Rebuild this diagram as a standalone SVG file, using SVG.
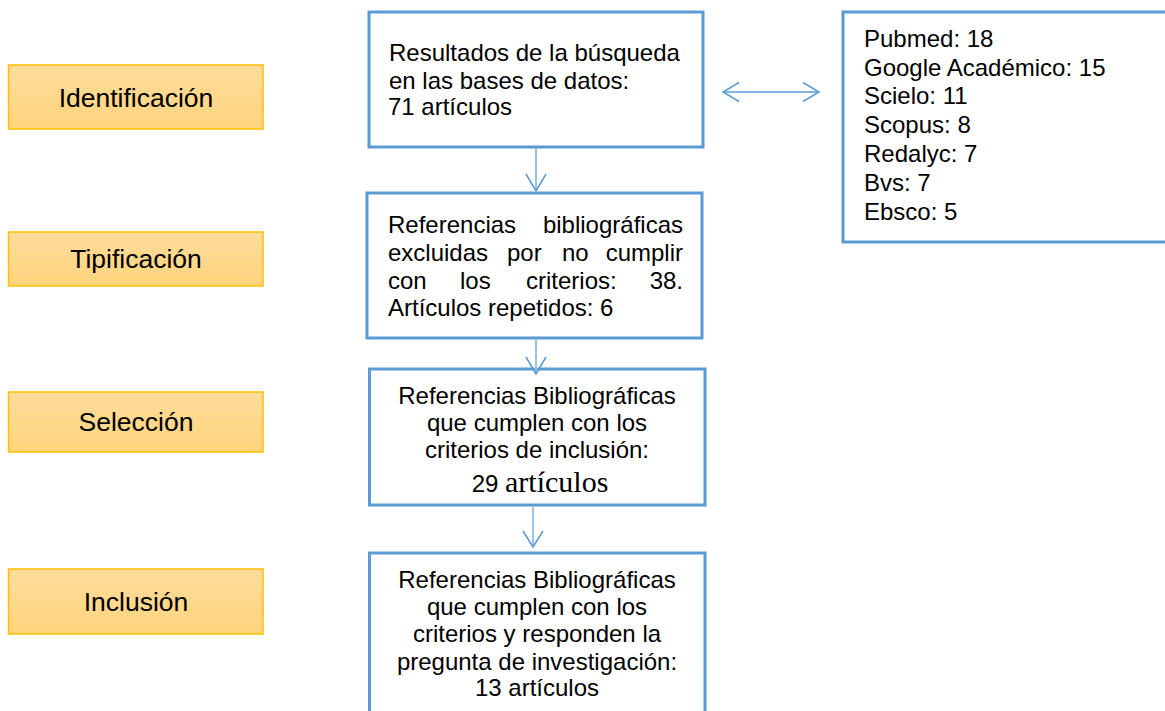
<svg xmlns="http://www.w3.org/2000/svg" width="1165" height="711" viewBox="0 0 1165 711">
<style>
.stage{stroke:#FFC000;stroke-width:1.5;fill:url(#og)}
.box{fill:#FFFFFF;stroke:#5B9BD5;stroke-width:3}
.lbl{font-family:"Liberation Sans",Arial,sans-serif;font-size:26.5px;fill:#000;text-anchor:middle}
.t{font-family:"Liberation Sans",Arial,sans-serif;font-size:24px;fill:#000}
.c{text-anchor:middle}
.e{text-anchor:end}
.line{stroke:#9DC3E6;stroke-width:2;fill:none}
.head{stroke:#5B9BD5;stroke-width:1.5;fill:none}
</style>
<defs>
<linearGradient id="og" x1="0" y1="0" x2="0" y2="1">
<stop offset="0" stop-color="#FFDC9C"/>
<stop offset="1" stop-color="#FFD47C"/>
</linearGradient>
</defs>
<rect width="1165" height="711" fill="#FFFFFF"/>

<g id="stage-identificacion">
<rect class="stage" x="8.5" y="65" width="254.5" height="64"/>
<text class="lbl" x="136" y="107">Identificación</text>
</g>
<g id="stage-tipificacion">
<rect class="stage" x="8.5" y="232" width="254.5" height="54"/>
<text class="lbl" x="136" y="268">Tipificación</text>
</g>
<g id="stage-seleccion">
<rect class="stage" x="8.5" y="392" width="254.5" height="60"/>
<text class="lbl" x="136" y="431">Selección</text>
</g>
<g id="stage-inclusion">
<rect class="stage" x="8.5" y="569" width="254.5" height="65"/>
<text class="lbl" x="136" y="611">Inclusión</text>
</g>

<g id="node-resultados">
<rect class="box" x="369" y="12" width="334" height="135"/>
<text class="t" x="389" y="61">Resultados de la búsqueda</text>
<text class="t" x="389" y="89">en las bases de datos:</text>
<text class="t" x="388" y="115">71 artículos</text>
</g>

<g id="node-bases">
<rect class="box" x="843" y="12" width="340" height="230"/>
<text class="t" x="864" y="47">Pubmed: 18</text>
<text class="t" x="864" y="75.5">Google Académico: 15</text>
<text class="t" x="864" y="104">Scielo: 11</text>
<text class="t" x="864" y="133">Scopus: 8</text>
<text class="t" x="864" y="162">Redalyc: 7</text>
<text class="t" x="864" y="191">Bvs: 7</text>
<text class="t" x="864" y="220">Ebsco: 5</text>
</g>

<g id="node-excluidas">
<rect class="box" x="367" y="193" width="335" height="145"/>
<text class="t" x="388" y="233">Referencias</text>
<text class="t e" x="683" y="233">bibliográficas</text>
<text class="t" x="388" y="261">excluidas</text>
<text class="t" x="507" y="261">por</text>
<text class="t" x="562" y="261">no</text>
<text class="t e" x="683" y="261">cumplir</text>
<text class="t" x="388" y="288.5">con</text>
<text class="t" x="460" y="288.5">los</text>
<text class="t" x="526" y="288.5">criterios:</text>
<text class="t e" x="683" y="288.5">38.</text>
<text class="t" x="388" y="316">Artículos repetidos: 6</text>
</g>

<g id="node-seleccion">
<rect class="box" x="369.5" y="369" width="335.5" height="136"/>
<text class="t c" x="537" y="403.5">Referencias Bibliográficas</text>
<text class="t c" x="537" y="430.5">que cumplen con los</text>
<text class="t c" x="537" y="457.5">criterios de inclusión:</text>
<text class="t c" x="540" y="492">29 <tspan font-family="'Liberation Serif','Times New Roman',serif" font-size="30px">artículos</tspan></text>
</g>

<g id="node-inclusion">
<rect class="box" x="369.5" y="553" width="335.5" height="170"/>
<text class="t c" x="537" y="587.5">Referencias Bibliográficas</text>
<text class="t c" x="537" y="614.5">que cumplen con los</text>
<text class="t c" x="537" y="642">criterios y responden la</text>
<text class="t c" x="537" y="669.5">pregunta de investigación:</text>
<text class="t c" x="537" y="695.5">13 artículos</text>
</g>

<g id="connectors">
<line class="line" x1="536" y1="148" x2="536" y2="191"/>
<polyline class="head" points="526,174 536,191 546,174"/>
<line class="line" x1="536" y1="339" x2="536" y2="374"/>
<polyline class="head" points="526,357 536,374 546,357"/>
<line class="line" x1="533" y1="506" x2="533" y2="547"/>
<polyline class="head" points="523,531 533,547 543,531"/>
<line class="head" x1="723" y1="92" x2="819" y2="92" stroke-width="2"/>
<polyline class="head" points="739,82.5 723,92 739,101.5"/>
<polyline class="head" points="803,82.5 819,92 803,101.5"/>
</g>
</svg>
